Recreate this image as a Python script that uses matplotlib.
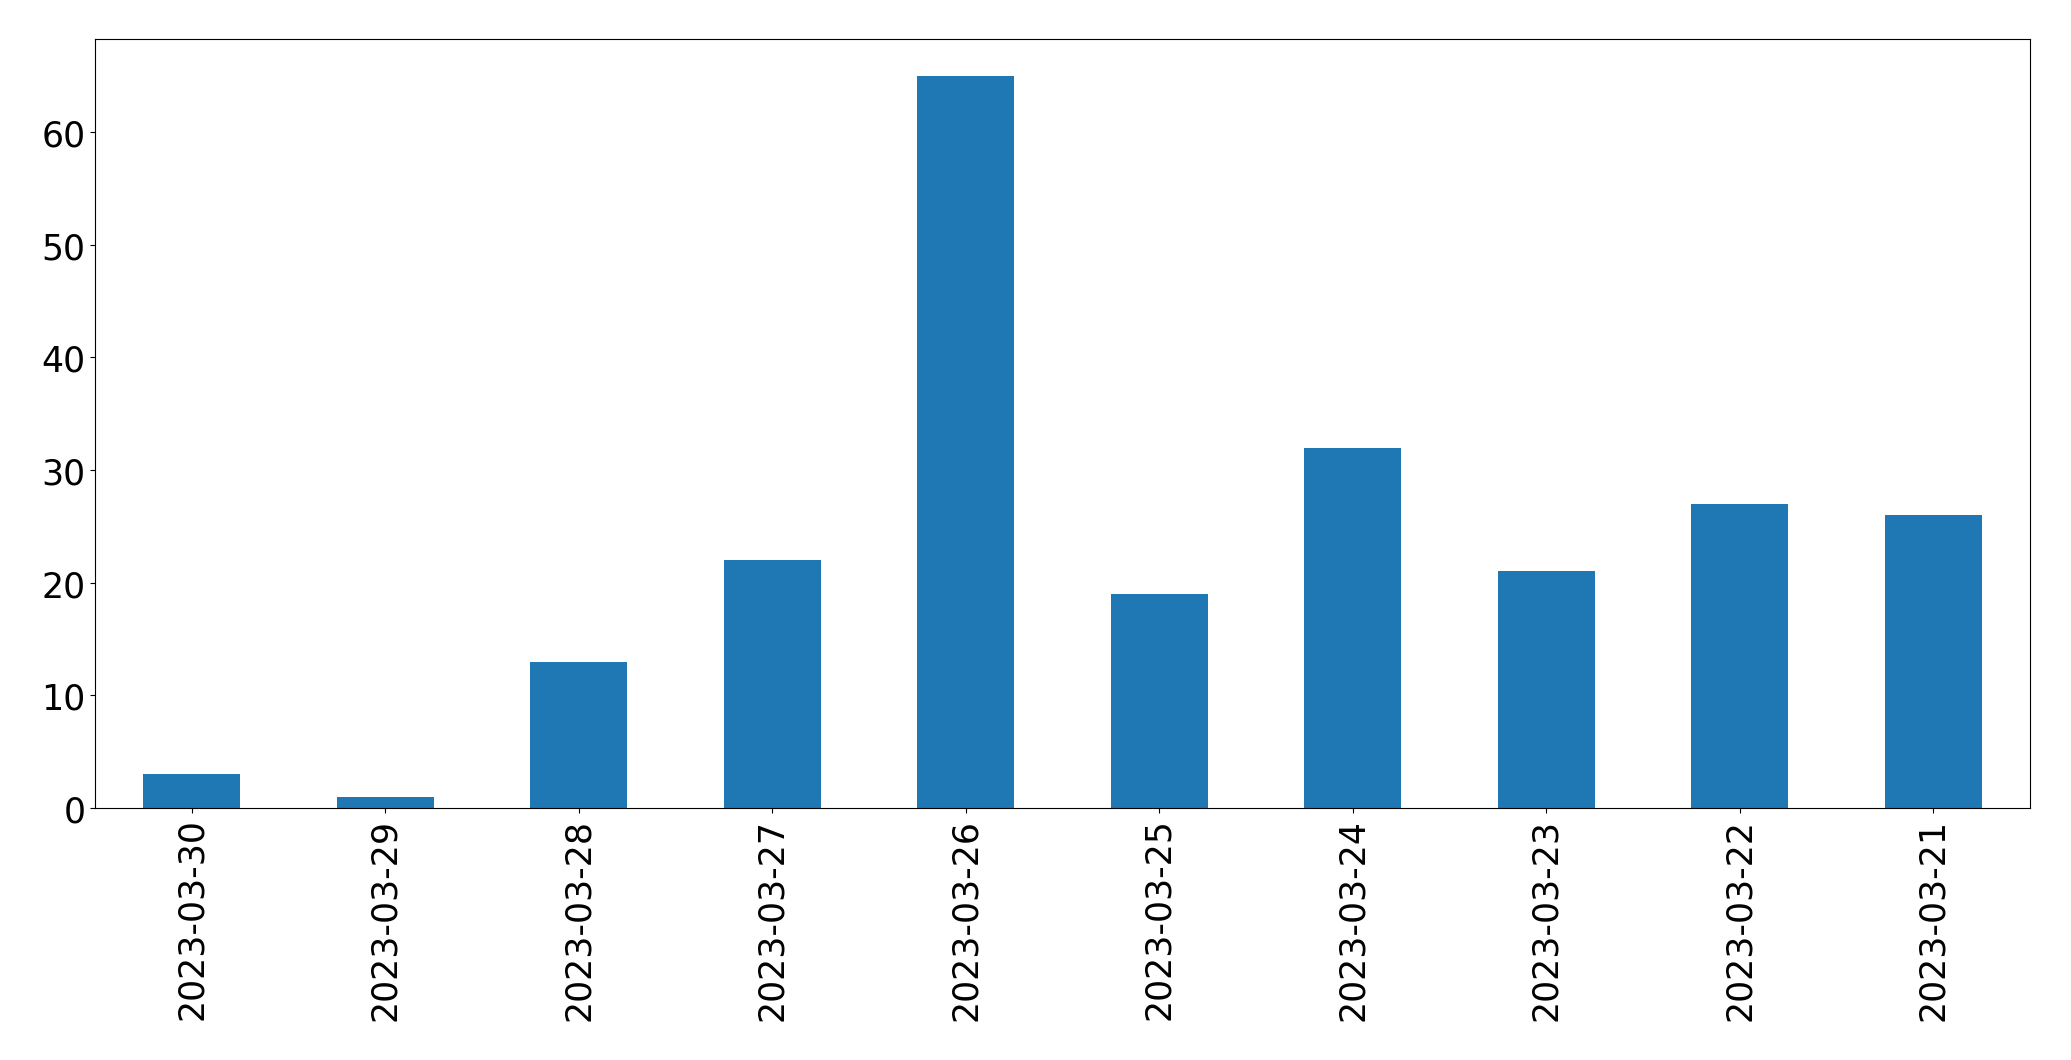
import matplotlib
matplotlib.use("Agg")
import matplotlib.pyplot as plt
import numpy as np

dates = ["2023-03-30", "2023-03-29", "2023-03-28", "2023-03-27", "2023-03-26",
         "2023-03-25", "2023-03-24", "2023-03-23", "2023-03-22", "2023-03-21"]
counts = [3, 1, 13, 22, 65, 19, 32, 21, 27, 26]

plt.rcParams['font.size'] = 25

fig = plt.figure(figsize=(20.71, 10.608), dpi=100)
ax = fig.add_axes([95 / 2071, 1 - 809 / 1061, (2030 - 95) / 2071, (809 - 40) / 1061])

x = np.arange(len(dates))
ax.bar(x, counts, width=0.5, color="#1f77b4")
ax.set_xticks(x)
ax.set_xticklabels(dates, rotation=90)
ax.set_xlim(-0.5, len(dates) - 0.5)
ax.set_ylim(0, max(counts) * 1.05)

fig.savefig("out.png", dpi=100)
